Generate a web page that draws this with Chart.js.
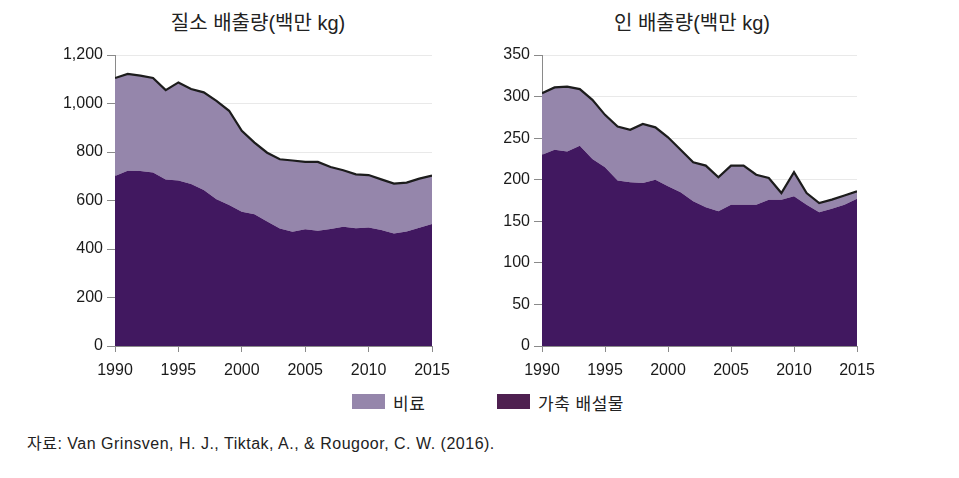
<!DOCTYPE html>
<html>
<head>
<meta charset="utf-8">
<script src="https://cdn.jsdelivr.net/npm/chart.js@4.4.0/dist/chart.umd.min.js"></script>
<style>
  body { margin: 0; background: #fff; width: 959px; height: 478px; position: relative; overflow: hidden;
         font-family: "Liberation Sans", "Noto Sans CJK KR", sans-serif; color: #222; }
  canvas { position: absolute; top: 0; }
  .title { position: absolute; top: 7px; font-size: 20px; white-space: nowrap; transform: translateX(-50%); }
  .legend { position: absolute; top: 390px; font-size: 17px; }
  .legend span.box { position: absolute; width: 33px; height: 15px; top: 4px; }
  .legend span.txt { position: absolute; white-space: nowrap; top: 0; letter-spacing: 0.5px; }
  .source { position: absolute; left: 27px; top: 430px; font-size: 16px; white-space: nowrap; letter-spacing: 0.5px; }
</style>
</head>
<body>
<div class="title" style="left:258px">질소 배출량(백만 kg)</div>
<div class="title" style="left:692px">인 배출량(백만 kg)</div>
<canvas id="nChart" width="470" height="390" style="left:0px"></canvas>
<canvas id="pChart" width="480" height="390" style="left:479px"></canvas>
<div class="legend">
  <span class="box" style="left:352px;background:#9586ab"></span><span class="txt" style="left:393px">비료</span>
  <span class="box" style="left:497px;background:#4e2050"></span><span class="txt" style="left:538px">가축 배설물</span>
</div>
<div class="source">자료: Van Grinsven, H. J., Tiktak, A., &amp; Rougoor, C. W. (2016).</div>
<script>
var years = [1990, 1991, 1992, 1993, 1994, 1995, 1996, 1997, 1998, 1999, 2000, 2001, 2002,
             2003, 2004, 2005, 2006, 2007, 2008, 2009, 2010, 2011, 2012, 2013, 2014, 2015];

// 질소 (백만 kg)
var nitrogenManure = [701, 723, 722, 715, 687, 682, 668, 643, 605, 581, 554, 543, 513,
                      485, 471, 481, 475, 482, 492, 486, 489, 478, 464, 472, 488, 503];
var nitrogenFertilizer = [404, 399, 393, 390, 368, 405, 392, 403, 406, 389, 333, 296, 284,
                          285, 294, 278, 284, 256, 233, 222, 216, 209, 206, 202, 202, 200];

// 인 (백만 kg)
var phosphorusManure = [230, 236, 234, 241, 225, 215, 199, 197, 196, 200, 192, 185, 174,
                        167, 162, 170, 170, 170, 176, 176, 180, 170, 161, 165, 170, 177];
var phosphorusFertilizer = [74, 75, 78, 68, 71, 63, 65, 63, 71, 63, 59, 51, 47,
                            50, 41, 47, 47, 36, 26, 8, 29, 14, 11, 11, 11, 9];

var nitrogenTicks = { max: 1200, step: 200 };
var phosphorusTicks = { max: 350, step: 50 };

var fertilizerLabel = '비료';
var manureLabel = '가축 배설물';

function toPoints(values) {
    return years.map(function (yr, i) { return { x: yr, y: values[i] }; });
}

function makeChart(canvasId, manure, fertilizer, yTicks, yWidth, padding) {
    return new Chart(document.getElementById(canvasId), {
        type: 'line',
        data: {
            datasets: [
                {
                    label: manureLabel,
                    data: toPoints(manure),
                    backgroundColor: '#411860',
                    borderWidth: 0,
                    pointRadius: 0,
                    fill: 'origin'
                },
                {
                    label: fertilizerLabel,
                    data: toPoints(fertilizer),
                    backgroundColor: '#9586ab',
                    borderColor: '#1c1c1c',
                    borderWidth: 2.2,
                    pointRadius: 0,
                    fill: '-1'
                }
            ]
        },
        options: {
            responsive: false,
            animation: false,
            layout: { padding: padding },
            plugins: { legend: { display: false }, tooltip: { enabled: false } },
            elements: { line: { tension: 0 } },
            scales: {
                x: {
                    type: 'linear',
                    min: 1990,
                    max: 2015,
                    afterFit: function (scale) { scale.height = 30; },
                    border: { color: '#8a8a8a', width: 1 },
                    grid: { drawOnChartArea: false, tickLength: 6, tickColor: '#8a8a8a' },
                    ticks: {
                        stepSize: 5,
                        maxRotation: 0,
                        padding: 9,
                        color: '#1a1a1a',
                        font: { size: 16, family: 'Liberation Sans' },
                        callback: function (v) { return String(v); }
                    }
                },
                y: {
                    stacked: true,
                    min: 0,
                    max: yTicks.max,
                    afterFit: function (scale) { scale.width = yWidth; },
                    border: { color: '#8a8a8a', width: 1 },
                    grid: { color: '#e9e9e9', tickLength: 8, tickColor: '#8a8a8a' },
                    ticks: {
                        stepSize: yTicks.step,
                        padding: 4,
                        color: '#1a1a1a',
                        font: { size: 16, family: 'Liberation Sans' },
                        callback: function (v) { return v.toLocaleString('en-US'); }
                    }
                }
            }
        }
    });
}

makeChart('nChart', nitrogenManure, nitrogenFertilizer, nitrogenTicks, 75,
          { left: 40, right: 38, top: 55, bottom: 14 });
makeChart('pChart', phosphorusManure, phosphorusFertilizer, phosphorusTicks, 63,
          { left: 0, right: 102, top: 55, bottom: 14 });
</script>
</body>
</html>
